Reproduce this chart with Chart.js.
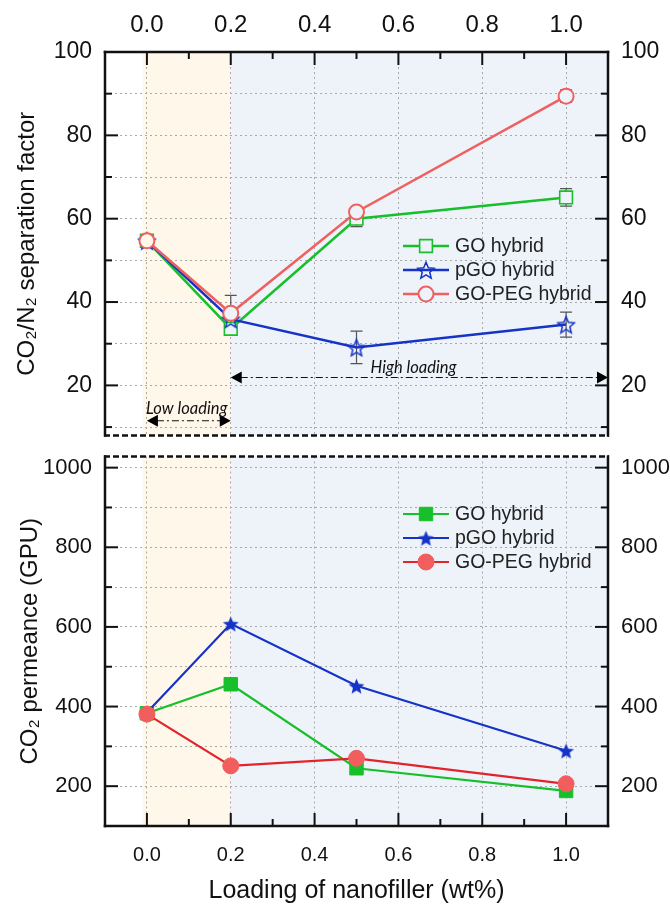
<!DOCTYPE html>
<html>
<head>
<meta charset="utf-8">
<script src="https://cdn.jsdelivr.net/npm/chart.js@4.4.1/dist/chart.umd.min.js"></script>
<style>
  html, body { margin: 0; padding: 0; background: #fff; }
  #wrap { position: relative; width: 670px; height: 904px; }
  #wrap canvas { position: absolute; left: 0; }
</style>
</head>
<body>
<div id="wrap">
  <canvas id="sep" width="670" height="446" style="top:0"></canvas>
  <canvas id="perm" width="670" height="458" style="top:446px"></canvas>
</div>
<script>
// data
const loading = [0, 0.2, 0.5, 1.0];
const seriesNames = ["GO hybrid", "pGO hybrid", "GO-PEG hybrid"];

// CO2/N2 separation factor (top panel)
const sepGO = [54.7, 33.6, 60.0, 65.1];
const sepPGO = [54.7, 35.9, 29.1, 34.6];
const sepPEG = [54.7, 37.3, 61.6, 89.4];
const sepGOErr = [0.8, 1.0, 1.9, 2.1];
const sepPGOErr = [0.8, 1.0, 3.9, 3.0];
const sepPEGErr = [0.8, 4.3, 1.0, 1.5];

// CO2 permeance, GPU (bottom panel)
const permGO = [383, 456, 245, 188];
const permPGO = [385, 608, 452, 289];
const permPEG = [381, 251, 270, 206];

// tick values
const xMajor = [0, 0.2, 0.4, 0.6, 0.8, 1.0];
const xMinor = [0.1, 0.3, 0.5, 0.7, 0.9];
const sepMajor = [20, 40, 60, 80, 100];
const sepMinor = [10, 30, 50, 70, 90];
const permMajor = [200, 400, 600, 800, 1000];
const permMinor = [100, 300, 500, 700, 900];

// shaded loading ranges
const lowRange = [-0.01, 0.2];
const highRange = [0.2, 1.1];

const GREEN = "#17c02a";
const BLUE = "#1533c6";
const RED_LIGHT = "#ef6161";
const RED = "#e2232b";
const BAND_LOW = "#fff7ea";
const BAND_HIGH = "#eef3fa";
const FONT = "'Liberation Sans', Arial, sans-serif";

// five point star as a point style
function starImage(size, color, filled) {
  const c = document.createElement("canvas");
  c.width = c.height = size;
  const g = c.getContext("2d");
  const cx = size / 2, cy = size / 2 + size * 0.05;
  const R = size / 2 - 1.2, r = R * 0.45;
  g.beginPath();
  for (let i = 0; i < 10; i++) {
    const a = -Math.PI / 2 + i * Math.PI / 5;
    const rad = i % 2 ? r : R;
    g.lineTo(cx + rad * Math.cos(a), cy + rad * Math.sin(a));
  }
  g.closePath();
  if (filled) {
    g.fillStyle = color;
    g.fill();
  } else {
    g.strokeStyle = color;
    g.lineWidth = 1.5;
    g.stroke();
  }
  return c;
}

const pts = (ys) => loading.map((x, i) => ({ x: x, y: ys[i] }));
const bandFill = (c) => (c.raw && c.raw.x < 0.2 ? BAND_LOW : BAND_HIGH);

// fixed axis boxes so both panels line up
function fixBox(size) {
  return function (axis) {
    if (axis.isHorizontal()) axis.height = size;
    else axis.width = size;
    axis.paddingTop = axis.paddingBottom = axis.paddingLeft = axis.paddingRight = 0;
  };
}
const setTicks = (vals) => (axis) => { axis.ticks = vals.map((v) => ({ value: v })); };

function xScale(position, height, fontSize, pad, title) {
  return {
    type: "linear",
    position: position,
    min: -0.1,
    max: 1.1,
    afterBuildTicks: setTicks(xMajor),
    afterFit: fixBox(height),
    grid: { color: "#a9a9a9", lineWidth: 1, drawTicks: false },
    border: { display: false, dash: [2, 3] },
    ticks: {
      autoSkip: false,
      padding: pad,
      color: "#111",
      font: { family: FONT, size: fontSize },
      callback: (v) => v.toFixed(1),
    },
    title: title,
  };
}

function yScale(position, min, max, all, major, fontSize, title) {
  return {
    type: "linear",
    position: position,
    min: min,
    max: max,
    afterBuildTicks: setTicks(all),
    afterFit: fixBox(position === "left" ? 105 : 62),
    grid: { display: position === "left", color: "#a9a9a9", lineWidth: 1, drawTicks: false },
    border: { display: false, dash: [2, 3] },
    ticks: {
      autoSkip: false,
      padding: 13,
      color: "#111",
      font: { family: FONT, size: fontSize },
      callback: (v) => (major.includes(v) ? String(v) : ""),
    },
    title: title || { display: false },
  };
}

// shaded bands behind the grid
const bandsPlugin = {
  id: "bands",
  beforeDraw(chart) {
    const { ctx, chartArea: a, scales } = chart;
    const x = scales.x;
    ctx.save();
    ctx.fillStyle = BAND_LOW;
    ctx.fillRect(x.getPixelForValue(lowRange[0]), a.top, x.getPixelForValue(lowRange[1]) - x.getPixelForValue(lowRange[0]), a.bottom - a.top);
    ctx.fillStyle = BAND_HIGH;
    ctx.fillRect(x.getPixelForValue(highRange[0]), a.top, x.getPixelForValue(highRange[1]) - x.getPixelForValue(highRange[0]), a.bottom - a.top);
    ctx.restore();
  },
};

// spines and inward ticks
const framePlugin = {
  id: "frame",
  afterDraw(chart, args, o) {
    const { ctx, chartArea: a, scales } = chart;
    const x = scales.x, y = scales.y;
    ctx.save();
    ctx.strokeStyle = "#111";
    ctx.lineWidth = 2.5;
    const seg = (x1, y1, x2, y2, dash) => {
      ctx.setLineDash(dash || []);
      ctx.lineCap = dash ? "butt" : "square";
      ctx.beginPath();
      ctx.moveTo(x1, y1);
      ctx.lineTo(x2, y2);
      ctx.stroke();
    };
    seg(a.left, a.top, a.left, a.bottom);
    seg(a.right, a.top, a.right, a.bottom);
    if (o.xSide === "top") {
      seg(a.left, a.top, a.right, a.top);
      seg(a.left - 1, a.bottom, a.right + 1, a.bottom, [6, 3]);
    } else {
      seg(a.left, a.bottom, a.right, a.bottom);
      seg(a.left - 1, a.top, a.right + 1, a.top, [6, 3]);
    }
    ctx.lineWidth = 2;
    const xTick = (v, len) => {
      const px = x.getPixelForValue(v);
      if (o.xSide === "top") seg(px, a.top, px, a.top + len);
      else seg(px, a.bottom, px, a.bottom - len);
    };
    const yTick = (v, len) => {
      const py = y.getPixelForValue(v);
      seg(a.left, py, a.left + len, py);
      seg(a.right, py, a.right - len, py);
    };
    xMajor.forEach((v) => xTick(v, 12));
    xMinor.forEach((v) => xTick(v, 6));
    o.yMajor.forEach((v) => yTick(v, 12));
    o.yMinor.forEach((v) => { if (v > y.min) yTick(v, 6); });
    ctx.restore();
  },
};

// error bars under the markers
const errorPlugin = {
  id: "errors",
  beforeDatasetsDraw(chart) {
    const { ctx, scales } = chart;
    ctx.save();
    ctx.strokeStyle = "#555";
    ctx.lineWidth = 1.2;
    chart.data.datasets.forEach((ds) => {
      if (!ds.errors) return;
      ds.data.forEach((p, i) => {
        const px = scales.x.getPixelForValue(p.x);
        const top = scales.y.getPixelForValue(p.y + ds.errors[i]);
        const bot = scales.y.getPixelForValue(p.y - ds.errors[i]);
        ctx.beginPath();
        ctx.moveTo(px, top); ctx.lineTo(px, bot);
        ctx.moveTo(px - 6, top); ctx.lineTo(px + 6, top);
        ctx.moveTo(px - 6, bot); ctx.lineTo(px + 6, bot);
        ctx.stroke();
      });
    });
    ctx.restore();
  },
};

// legend drawn inside the plot
const legendPlugin = {
  id: "seriesLegend",
  afterDraw(chart, args, o) {
    const ctx = chart.ctx;
    chart.data.datasets.forEach((ds, i) => {
      const y = o.top + i * 24;
      const mid = o.left + 23;
      ctx.save();
      ctx.strokeStyle = ds.borderColor;
      ctx.lineWidth = ds.borderWidth;
      ctx.beginPath();
      ctx.moveTo(o.left, y); ctx.lineTo(o.left + 46, y);
      ctx.stroke();
      ctx.fillStyle = o.hollow ? BAND_HIGH : ds.pointBackgroundColor;
      ctx.strokeStyle = ds.pointBorderColor;
      ctx.lineWidth = ds.pointBorderWidth;
      Chart.helpers.drawPoint(ctx, { pointStyle: ds.pointStyle, radius: ds.pointRadius, rotation: 0, borderWidth: ds.pointBorderWidth }, mid, y);
      ctx.fillStyle = "#222";
      ctx.font = "19.5px " + FONT;
      ctx.textBaseline = "middle";
      ctx.fillText(ds.label, o.left + 52, y + 1);
      ctx.restore();
    });
  },
};

// loading range arrows and labels
const rangePlugin = {
  id: "ranges",
  afterDatasetsDraw(chart) {
    const { ctx, scales } = chart;
    const x = scales.x, y = scales.y;
    const arrow = (v1, v2, yv) => {
      const x1 = x.getPixelForValue(v1), x2 = x.getPixelForValue(v2), py = y.getPixelForValue(yv);
      ctx.save();
      ctx.strokeStyle = "#111";
      ctx.lineWidth = 1.1;
      ctx.setLineDash([7, 3, 2, 3]);
      ctx.beginPath();
      ctx.moveTo(x1 + 10, py); ctx.lineTo(x2 - 10, py);
      ctx.stroke();
      ctx.fillStyle = "#000";
      ctx.beginPath();
      ctx.moveTo(x1, py); ctx.lineTo(x1 + 11, py - 6); ctx.lineTo(x1 + 11, py + 6); ctx.closePath();
      ctx.moveTo(x2, py); ctx.lineTo(x2 - 11, py - 6); ctx.lineTo(x2 - 11, py + 6); ctx.closePath();
      ctx.fill();
      ctx.restore();
    };
    arrow(lowRange[1] - 0.2, lowRange[1], 11.5);
    arrow(highRange[0], highRange[1], 21.9);
    ctx.save();
    ctx.fillStyle = "#111";
    ctx.font = "italic 16.5px Lato, 'Open Sans', sans-serif";
    ctx.textAlign = "center";
    ctx.textBaseline = "middle";
    ctx.fillText("Low loading", x.getPixelForValue(0.095), y.getPixelForValue(14.5));
    ctx.fillText("High loading", x.getPixelForValue(0.636), y.getPixelForValue(24.3));
    ctx.restore();
  },
};

const starOpen = starImage(20, BLUE, false);
const starFull = starImage(19, BLUE, true);

// top panel: separation factor
new Chart(document.getElementById("sep"), {
  type: "line",
  data: {
    datasets: [
      { label: seriesNames[0], data: pts(sepGO), errors: sepGOErr, order: 3, borderColor: GREEN, borderWidth: 2.5,
        pointStyle: "rect", pointRadius: 9, pointBorderColor: GREEN, pointBackgroundColor: bandFill, pointBorderWidth: 1.6 },
      { label: seriesNames[1], data: pts(sepPGO), errors: sepPGOErr, order: 2, borderColor: BLUE, borderWidth: 2.5,
        pointStyle: starOpen, pointRadius: 9, pointBorderColor: BLUE, pointBackgroundColor: bandFill, pointBorderWidth: 1.5 },
      { label: seriesNames[2], data: pts(sepPEG), errors: sepPEGErr, order: 1, borderColor: RED_LIGHT, borderWidth: 2.5,
        pointStyle: "circle", pointRadius: 7.5, pointBorderColor: RED_LIGHT, pointBackgroundColor: bandFill, pointBorderWidth: 2 },
    ],
  },
  options: {
    responsive: false,
    devicePixelRatio: 1,
    animation: false,
    events: [],
    layout: { padding: { top: 0, left: 0, right: 0, bottom: 5 } },
    scales: {
      x: xScale("top", 52, 24, 12, { display: false }),
      y: yScale("left", 8, 100, sepMinor.concat(sepMajor).sort((a, b) => a - b), sepMajor, 23, {
        display: true, text: "CO\u2082/N\u2082 separation factor", color: "#111",
        font: { family: FONT, size: 24, lineHeight: 1.2 }, padding: { top: 13 },
      }),
      y2: yScale("right", 8, 100, sepMinor.concat(sepMajor).sort((a, b) => a - b), sepMajor, 23),
    },
    plugins: {
      legend: { display: false },
      tooltip: { enabled: false },
      frame: { xSide: "top", yMajor: sepMajor, yMinor: sepMinor },
      seriesLegend: { left: 403, top: 246, hollow: true },
    },
  },
  plugins: [bandsPlugin, errorPlugin, rangePlugin, legendPlugin, framePlugin],
});

// bottom panel: permeance
new Chart(document.getElementById("perm"), {
  type: "line",
  data: {
    datasets: [
      { label: seriesNames[0], data: pts(permGO), order: 3, borderColor: GREEN, borderWidth: 2.2,
        pointStyle: "rect", pointRadius: 9.5, pointBorderColor: GREEN, pointBackgroundColor: GREEN, pointBorderWidth: 1 },
      { label: seriesNames[1], data: pts(permPGO), order: 2, borderColor: BLUE, borderWidth: 2.2,
        pointStyle: starFull, pointRadius: 9, pointBorderColor: BLUE, pointBackgroundColor: BLUE, pointBorderWidth: 1 },
      { label: seriesNames[2], data: pts(permPEG), order: 1, borderColor: RED, borderWidth: 2.2,
        pointStyle: "circle", pointRadius: 8, pointBorderColor: "#f25e5e", pointBackgroundColor: "#f25e5e", pointBorderWidth: 1 },
    ],
  },
  options: {
    responsive: false,
    devicePixelRatio: 1,
    animation: false,
    events: [],
    layout: { padding: { top: 4, left: 0, right: 0, bottom: 0 } },
    scales: {
      x: xScale("bottom", 78, 20, 17, {
        display: true, text: "Loading of nanofiller (wt%)", color: "#111",
        font: { family: FONT, size: 25, lineHeight: 1 }, padding: 0,
      }),
      y: yScale("left", 100, 1028, permMinor.concat(permMajor).sort((a, b) => a - b), permMajor, 22, {
        display: true, text: "CO\u2082 permeance (GPU)", color: "#111",
        font: { family: FONT, size: 24, lineHeight: 1.2 }, padding: { top: 16 },
      }),
      y2: yScale("right", 100, 1028, permMinor.concat(permMajor).sort((a, b) => a - b), permMajor, 22),
    },
    plugins: {
      legend: { display: false },
      tooltip: { enabled: false },
      frame: { xSide: "bottom", yMajor: permMajor, yMinor: permMinor },
      seriesLegend: { left: 403, top: 68, hollow: false },
    },
  },
  plugins: [bandsPlugin, legendPlugin, framePlugin],
});
</script>
</body>
</html>
